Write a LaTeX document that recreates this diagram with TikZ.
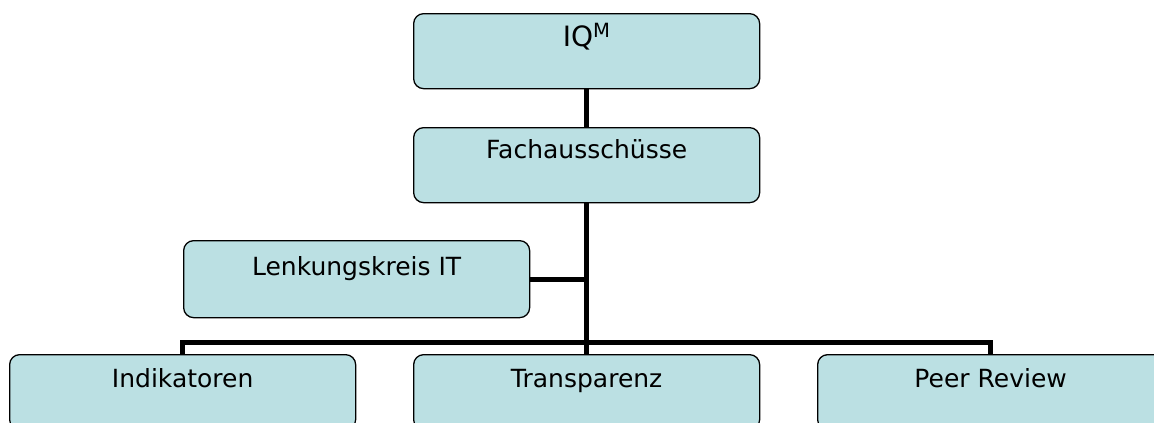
\documentclass[tikz,border=0pt]{standalone}
\usepackage{fontspec}
\setmainfont{DejaVu Sans}
\definecolor{boxfill}{HTML}{BBE0E3}
\begin{document}
\begin{tikzpicture}[x=1pt,y=-1pt,
  orgbox/.style={draw=black, line width=1.3pt, fill=boxfill, rounded corners=10pt,
    minimum width=346pt, minimum height=75pt, inner sep=0pt, anchor=north west},
  boxtext/.style={anchor=base, font=\fontsize{25}{30}\selectfont},
  conn/.style={line width=5pt, draw=black}]
\useasboundingbox (0,0) rectangle (1154,423);
\clip (0,0) rectangle (1154,423);
\node[orgbox, label={[boxtext, font=\fontsize{28}{34}\selectfont, yshift=-33.7pt]north:IQ\textsuperscript{M}}] (iq) at (413,13) {};
\node[orgbox, label={[boxtext, yshift=-31pt]north:Fachausschüsse}] (fach) at (413,127) {};
\node[orgbox, minimum height=77pt, label={[boxtext, yshift=-35.7pt]north:Lenkungskreis IT}] (lenk) at (183,240) {};
\node[orgbox, label={[boxtext, yshift=-33pt]north:Indikatoren}] (indik) at (9,354) {};
\node[orgbox, label={[boxtext, yshift=-33pt]north:Transparenz}] (trans) at (413,354) {};
\node[orgbox, label={[boxtext, yshift=-33pt]north:Peer Review}] (peer) at (817,354) {};
\coordinate (bus) at (586,342);
\draw[conn] (iq.south) -- (fach.north);
\draw[conn] (fach.south) -- (trans.north);
\draw[conn] (lenk.east) -- (lenk.east -| fach.south);
\draw[conn] (indik.north) |- (bus) -| (peer.north);
\end{tikzpicture}
\end{document}
